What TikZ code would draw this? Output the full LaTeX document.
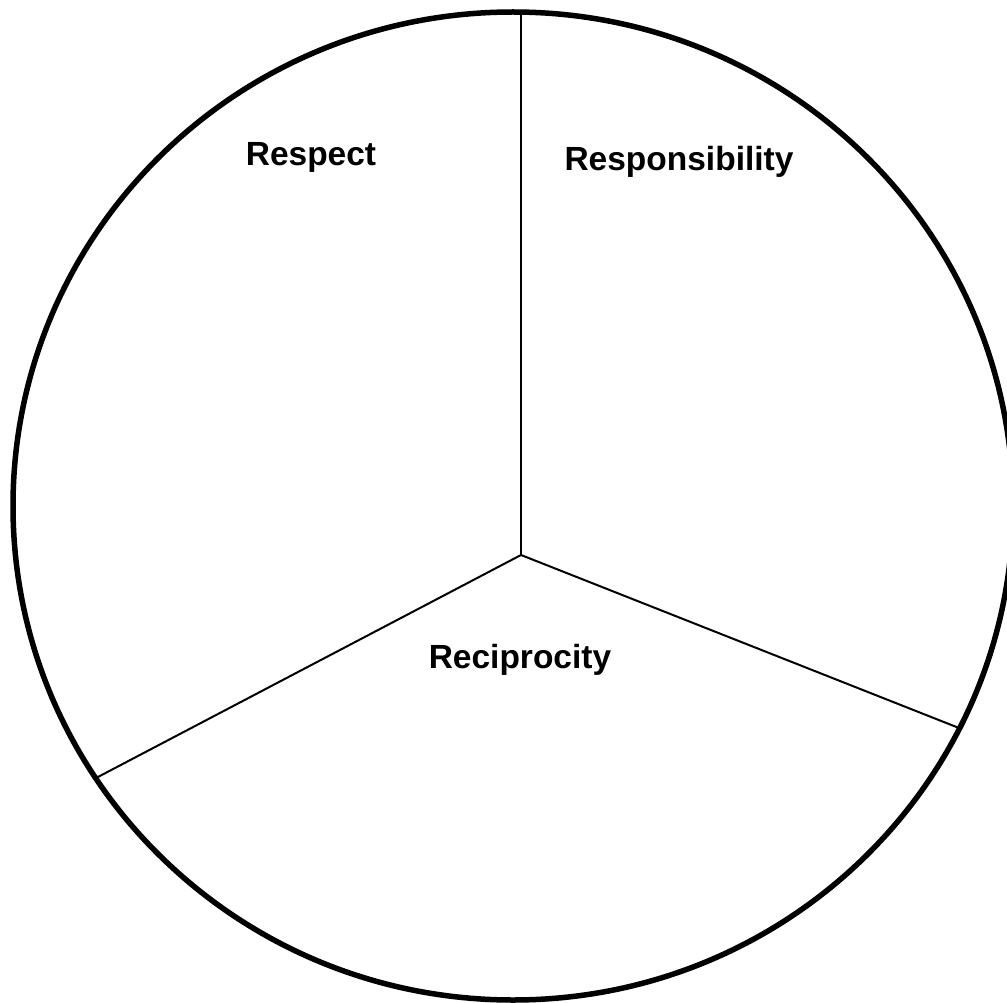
\documentclass[tikz,border=0pt]{standalone}
\usepackage{fontspec}
\setmainfont{Liberation Sans}
\begin{document}
\begin{tikzpicture}[x=1pt,y=-1pt,
  divider/.style={line width=2pt, black},
  rim/.style={line width=5.5pt, black},
  label/.style={font=\fontsize{33.5}{40}\selectfont\bfseries, anchor=base, inner sep=0pt}]
\useasboundingbox (0,0) rectangle (1007,1003);
\clip (0,0) rectangle (1007,1003);
\fill[white] (0,0) rectangle (1007,1003);
\coordinate (c) at (521,555);
\coordinate (t) at (521,12);
\coordinate (l) at (96,778);
\coordinate (r) at (959,728);
\draw[divider] (c) -- (t);
\draw[divider] (c) -- (l);
\draw[divider] (c) -- (r);
\draw[rim] (513,506) ellipse [x radius=500, y radius=494];
\node[label] (respect) at (311,166) {Respect};
\node[label] (responsibility) at (679,171) {Responsibility};
\node[label] (reciprocity) at (520,668) {Reciprocity};
\end{tikzpicture}
\end{document}
